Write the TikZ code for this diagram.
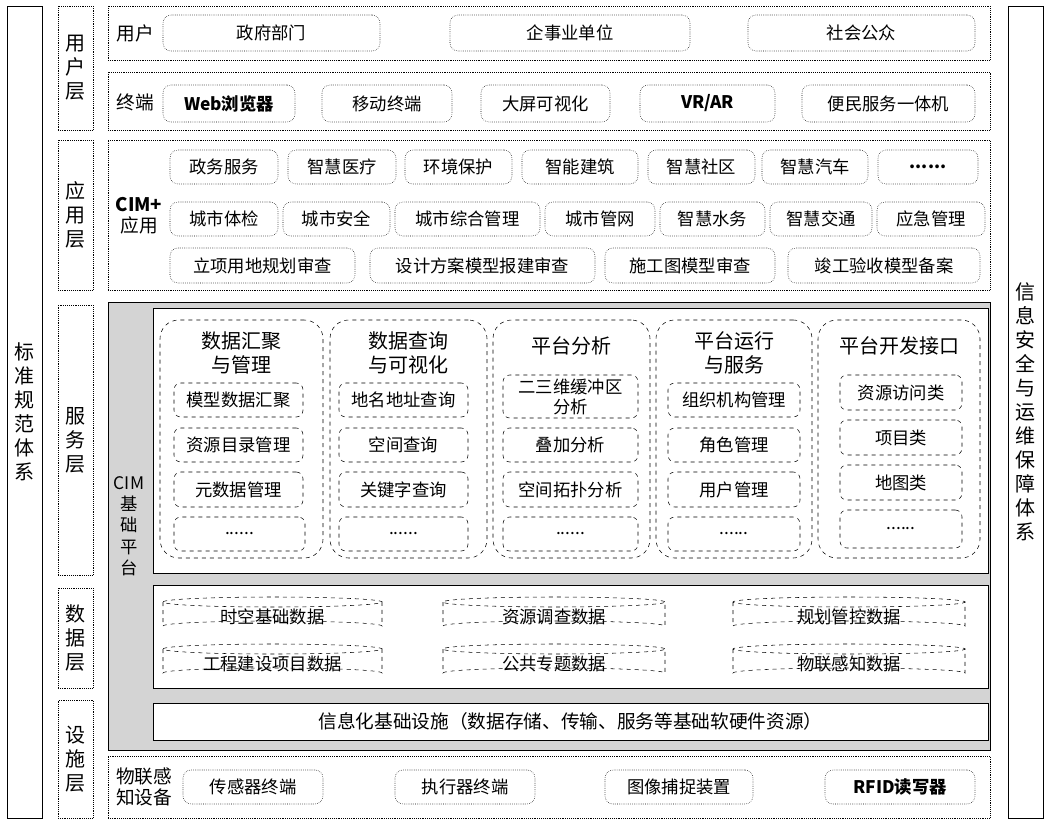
\documentclass[tikz,border=0pt]{standalone}
\usepackage{fontspec}
\setmainfont{Noto Sans CJK SC}
\usetikzlibrary{shapes.geometric}
\newcommand\bx[7]{\node[#1, minimum width={(#4-#2)*0.75pt}, minimum height={(#5-#3)*0.75pt}] (#6) at ({(#2+#4)/2},{(#3+#5)/2}) {#7};}
\newcommand\cyl[6]{%
  \draw[dashed,thin] (#1,{#2+5}) -- (#1,{#4-5}) arc[start angle=180,end angle=360,x radius={(#3-#1)/2},y radius=5] -- (#3,{#2+5}) arc[start angle=0,end angle=180,x radius={(#3-#1)/2},y radius=5] arc[start angle=180,end angle=360,x radius={(#3-#1)/2},y radius=5];
  \node[txt] (#6) at ({(#1+#3)/2},{(#2+#4)/2+3}) {#5};}
\begin{document}
\begin{tikzpicture}[x=0.75pt,y=-0.75pt,
  txt/.style={font=\fontsize{13}{15}\selectfont, inner sep=0pt, align=center},
  lay/.style={draw, densely dotted, thin, font=\fontsize{15}{18}\selectfont, align=center, inner sep=0pt},
  row/.style={draw, densely dotted, thin, inner sep=0pt},
  rb/.style={draw, densely dotted, thin, rounded corners=6pt, txt},
  col/.style={draw, dashed, thin, rounded corners=14pt, inner sep=0pt},
  sb/.style={draw, dashed, thin, rounded corners=5pt, txt},
  side/.style={draw, semithick, font=\fontsize{15}{18}\selectfont, align=center, inner sep=0pt},
  wb/.style={draw, semithick, fill=white, inner sep=0pt}]
\useasboundingbox (0,0) rectangle (1050,824);
% sides
\bx{side}{7}{6}{42}{818}{std}{标\\准\\规\\范\\体\\系}
\bx{side}{1008}{6}{1043}{818}{sec}{信\\息\\安\\全\\与\\运\\维\\保\\障\\体\\系}
% layer labels
\bx{lay}{58}{6}{93}{130}{L1}{用\\户\\层}
\bx{lay}{58}{140}{93}{290}{L2}{应\\用\\层}
\bx{lay}{58}{305}{93}{575}{L3}{服\\务\\层}
\bx{lay}{58}{588}{93}{688}{L4}{数\\据\\层}
\bx{lay}{58}{700}{93}{818}{L5}{设\\施\\层}
% user row
\bx{row}{108}{6}{990}{60}{urow}{}
\node[txt,font=\fontsize{14}{16}\selectfont] (ulab) at (135,33) {用户};
\bx{rb}{163}{15}{380}{51}{u1}{政府部门}
\bx{rb}{450}{15}{690}{51}{u2}{企事业单位}
\bx{rb}{748}{15}{975}{51}{u3}{社会公众}
% terminal row
\bx{row}{108}{72}{990}{130}{trow}{}
\node[txt,font=\fontsize{14}{16}\selectfont] (tlab) at (135,102) {终端};
\bx{rb}{163}{85}{295}{122}{t1}{\textbf{Web浏览器}}
\bx{rb}{322}{85}{452}{122}{t2}{移动终端}
\bx{rb}{481}{85}{610}{122}{t3}{大屏可视化}
\bx{rb}{640}{85}{775}{122}{t4}{\textbf{VR/AR}}
\bx{rb}{802}{85}{975}{122}{t5}{便民服务一体机}
% application
\bx{row}{108}{140}{990}{290}{arow}{}
\node[txt,font=\fontsize{14}{16}\selectfont] (alab) at (139,216) {\textbf{CIM+}\\应用};
\bx{rb}{170}{150}{278}{184}{a1}{政务服务}
\bx{rb}{288}{150}{396}{184}{a2}{智慧医疗}
\bx{rb}{405}{150}{512}{184}{a3}{环境保护}
\bx{rb}{522}{150}{638}{184}{a4}{智能建筑}
\bx{rb}{648}{150}{755}{184}{a5}{智慧社区}
\bx{rb}{762}{150}{868}{184}{a6}{智慧汽车}
\bx{rb}{878}{150}{978}{184}{a7}{\textbf{......}}
\bx{rb}{170}{202}{278}{236}{b1}{城市体检}
\bx{rb}{283}{202}{390}{236}{b2}{城市安全}
\bx{rb}{395}{202}{540}{236}{b3}{城市综合管理}
\bx{rb}{545}{202}{655}{236}{b4}{城市管网}
\bx{rb}{660}{202}{765}{236}{b5}{智慧水务}
\bx{rb}{770}{202}{872}{236}{b6}{智慧交通}
\bx{rb}{877}{202}{985}{236}{b7}{应急管理}
\bx{rb}{170}{248}{355}{283}{c1}{立项用地规划审查}
\bx{rb}{370}{248}{595}{283}{c2}{设计方案模型报建审查}
\bx{rb}{605}{248}{775}{283}{c3}{施工图模型审查}
\bx{rb}{788}{248}{980}{283}{c4}{竣工验收模型备案}
% CIM platform
\bx{draw,semithick,fill=black!17,inner sep=0pt}{108}{302}{990}{750}{cim}{}
\node[txt,font=\fontsize{13}{16}\selectfont] (cimlab) at (129,526) {CIM\\基\\础\\平\\台};
\bx{wb}{153}{308}{988}{573}{svc}{}
% columns
\bx{col}{160}{320}{323}{558}{k1}{}
\bx{col}{330}{320}{487}{558}{k2}{}
\bx{col}{493}{320}{650}{558}{k3}{}
\bx{col}{656}{320}{812}{558}{k4}{}
\bx{col}{818}{320}{980}{558}{k5}{}
\tikzset{ttl/.style={txt,font=\fontsize{15}{18}\selectfont}}
\node[ttl] (h1) at (241,353) {数据汇聚\\与管理};
\node[ttl] (h2) at (408,353) {数据查询\\与可视化};
\node[ttl] (h3) at (571,346) {平台分析};
\node[ttl] (h4) at (734,353) {平台运行\\与服务};
\node[ttl] (h5) at (899,346) {平台开发接口};
\bx{sb}{174}{383}{303}{417}{s11}{模型数据汇聚}
\bx{sb}{174}{428}{303}{462}{s12}{资源目录管理}
\bx{sb}{174}{472}{303}{507}{s13}{元数据管理}
\bx{sb}{174}{517}{305}{551}{s14}{......}
\bx{sb}{339}{383}{468}{417}{s21}{地名地址查询}
\bx{sb}{339}{428}{468}{462}{s22}{空间查询}
\bx{sb}{339}{472}{468}{507}{s23}{关键字查询}
\bx{sb}{339}{517}{468}{551}{s24}{......}
\bx{sb}{503}{375}{638}{418}{s31}{二三维缓冲区\\分析}
\bx{sb}{503}{428}{638}{462}{s32}{叠加分析}
\bx{sb}{503}{472}{638}{507}{s33}{空间拓扑分析}
\bx{sb}{503}{517}{638}{551}{s34}{......}
\bx{sb}{668}{383}{800}{417}{s41}{组织机构管理}
\bx{sb}{668}{428}{800}{462}{s42}{角色管理}
\bx{sb}{668}{472}{800}{507}{s43}{用户管理}
\bx{sb}{668}{517}{800}{551}{s44}{......}
\bx{sb}{840}{375}{962}{410}{s51}{资源访问类}
\bx{sb}{840}{420}{962}{455}{s52}{项目类}
\bx{sb}{840}{465}{962}{500}{s53}{地图类}
\bx{sb}{840}{510}{962}{548}{s54}{......}
% data
\bx{wb}{153}{585}{988}{688}{dat}{}
\cyl{163}{597}{382}{631}{时空基础数据}{d1}
\cyl{443}{597}{665}{631}{资源调查数据}{d2}
\cyl{733}{597}{965}{631}{规划管控数据}{d3}
\cyl{163}{644}{382}{678}{工程建设项目数据}{d4}
\cyl{443}{644}{665}{678}{公共专题数据}{d5}
\cyl{733}{644}{965}{678}{物联感知数据}{d6}
% infra
\bx{wb,txt,font=\fontsize{14}{16}\selectfont}{153}{703}{988}{740}{inf}{信息化基础设施（数据存储、传输、服务等基础软硬件资源）}
% iot row
\bx{row}{108}{756}{990}{818}{irow}{}
\node[txt,font=\fontsize{14}{16}\selectfont] (ilab) at (144,787) {物联感\\知设备};
\bx{rb}{183}{770}{323}{804}{i1}{传感器终端}
\bx{rb}{395}{770}{535}{804}{i2}{执行器终端}
\bx{rb}{605}{770}{753}{804}{i3}{图像捕捉装置}
\bx{rb}{825}{770}{975}{804}{i4}{\textbf{RFID读写器}}
\end{tikzpicture}
\end{document}
